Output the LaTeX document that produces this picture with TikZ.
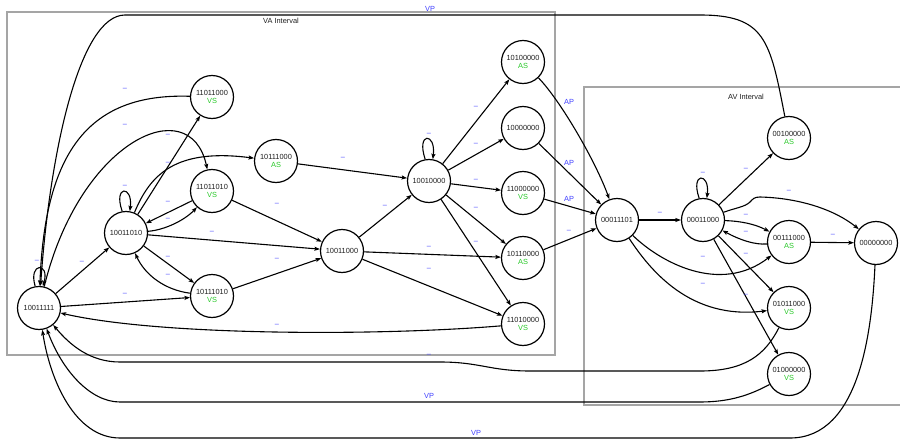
\documentclass[tikz,border=0pt]{standalone}
\usepackage{fontspec}
\setmainfont{Liberation Sans}
\usetikzlibrary{arrows.meta}
\definecolor{lblue}{RGB}{64,64,255}
\definecolor{sgreen}{RGB}{40,200,40}
\definecolor{boxgray}{RGB}{165,165,165}
\definecolor{txt}{RGB}{30,30,30}
\begin{document}
\begin{tikzpicture}[x=1pt,y=-1pt,
  st/.style={circle,draw,line width=1.2pt,minimum size=43pt,inner sep=0pt,align=center,font=\fontsize{7.4}{8.8}\selectfont,text=txt},
  arr/.style={line width=1.1pt,-{Stealth[length=5.5pt,width=4pt,inset=1pt]}},
  lbl/.style={font=\fontsize{7.4}{8.8}\selectfont,text=lblue,inner sep=0pt},
  box/.style={draw=boxgray,line width=2pt,inner sep=0pt},
  boxlbl/.style={font=\fontsize{7.4}{8.8}\selectfont,inner sep=0pt,text=txt}
]
\useasboundingbox (0,0) rectangle (900,439);
% interval boxes
\node[box,minimum width=548pt,minimum height=343pt] (va) at (281,183.5) {};
\node[box,minimum width=324pt,minimum height=318pt] (av) at (746,246) {};
\node[boxlbl] (valbl) at (281,21) {VA Interval};
\node[boxlbl] (avlbl) at (746,97) {AV Interval};
% states
\node[st] (A) at (39,308) {10011111};
\node[st] (B) at (126,233) {10011010};
\node[st] (C) at (212,97) {11011000\\\textcolor{sgreen}{VS}};
\node[st] (D) at (212,191) {11011010\\\textcolor{sgreen}{VS}};
\node[st] (E) at (276,161) {10111000\\\textcolor{sgreen}{AS}};
\node[st] (F) at (212,296) {10111010\\\textcolor{sgreen}{VS}};
\node[st] (G) at (342,251) {10011000};
\node[st] (H) at (429,181) {10010000};
\node[st] (I) at (523,62) {10100000\\\textcolor{sgreen}{AS}};
\node[st] (J) at (523,128) {10000000};
\node[st] (K) at (523,193) {11000000\\\textcolor{sgreen}{VS}};
\node[st] (L) at (523,258) {10110000\\\textcolor{sgreen}{AS}};
\node[st] (M) at (523,324) {11010000\\\textcolor{sgreen}{VS}};
\node[st] (N) at (617,220) {00011101};
\node[st] (O) at (703,220) {00011000};
\node[st] (P) at (789,138) {00100000\\\textcolor{sgreen}{AS}};
\node[st] (Q) at (789,242) {00111000\\\textcolor{sgreen}{AS}};
\node[st] (R) at (876,243) {00000000};
\node[st] (S) at (789,308) {01011000\\\textcolor{sgreen}{VS}};
\node[st] (T) at (789,374) {01000000\\\textcolor{sgreen}{VS}};
% edges around A
\draw[arr] (A.100) .. controls (28,262) and (50,262) .. (A.80);
\draw[arr] (A) -- (B);
\draw[arr] (A) -- (F);
\draw[arr] (M) .. controls (380,336) and (160,336) .. (A);
\draw[arr] (C) .. controls (90,93) and (45,150) .. (A);
\draw[arr] (A) .. controls (80,140) and (190,90) .. (D);
\draw[arr] (P) .. controls (770,40) and (765,15) .. (700,15) -- (125,15) .. controls (80,15) and (50,150) .. (A);
\draw[arr] (S) .. controls (765,355) and (745,371) .. (700,371) -- (530,371) .. controls (490,371) and (480,362) .. (440,362) -- (120,362) .. controls (90,362) and (70,345) .. (A);
\draw[arr] (T) .. controls (750,395) and (730,402) .. (700,402) -- (120,402) .. controls (90,402) and (62,370) .. (A);
\draw[arr] (R) .. controls (872,330) and (860,438) .. (790,438) -- (120,438) .. controls (75,438) and (50,380) .. (A);
% edges around B
\draw[arr] (B.100) .. controls (113,185) and (133,185) .. (B.80);
\draw[arr] (B) -- (C);
\draw[arr] (B) .. controls (150,175) and (175,148) .. (E);
\draw[arr] (D) -- (B);
\draw[arr] (B) .. controls (165,230) and (185,220) .. (D);
\draw[arr] (B) -- (G);
\draw[arr] (B) -- (F);
\draw[arr] (F) .. controls (165,290) and (145,275) .. (B);
% middle
\draw[arr] (D) -- (G);
\draw[arr] (F) -- (G);
\draw[arr] (E) -- (H);
\draw[arr] (G) -- (H);
\draw[arr] (G) -- (L);
\draw[arr] (G) -- (M);
\draw[arr] (H.100) .. controls (416,132) and (436,132) .. (H.80);
\draw[arr] (H) -- (I);
\draw[arr] (H) -- (J);
\draw[arr] (H) -- (K);
\draw[arr] (H) -- (L);
\draw[arr] (H) -- (M);
% into N
\draw[arr] (I) .. controls (560,100) and (595,160) .. (N);
\draw[arr] (J) -- (N);
\draw[arr] (K) -- (N);
\draw[arr] (L) -- (N);
% AV interval
\draw[arr] (N) -- (O);
\draw[arr] (O.100) .. controls (690,172) and (710,172) .. (O.80);
\draw[arr] (O) -- (P);
\draw[arr] (O) .. controls (735,208) and (745,207) .. (750,202) .. controls (753,199) and (754,197) .. (760,197) .. controls (800,198) and (835,210) .. (R);
\draw[arr] (O) .. controls (740,221) and (755,224) .. (Q);
\draw[arr] (Q) .. controls (755,245) and (740,240) .. (O);
\draw[arr] (Q) -- (R);
\draw[arr] (O) -- (S);
\draw[arr] (O) -- (T);
\draw[arr] (N) .. controls (660,262) and (720,295) .. (Q);
\draw[arr] (N) .. controls (650,270) and (690,320) .. (S);
% labels
\node[lbl] (l1) at (37,261) {–};
\node[lbl] (l2) at (82,262) {–};
\node[lbl] (l3) at (125,294) {–};
\node[lbl] (l4) at (277,325) {–};
\node[lbl] (l5) at (125,89) {–};
\node[lbl] (l6) at (125,125) {–};
\node[lbl] (l7) at (430,9) {VP};
\node[lbl] (l8) at (429,355) {–};
\node[lbl] (l9) at (429,396) {VP};
\node[lbl] (l10) at (476,433) {VP};
\node[lbl] (l11) at (125,186) {–};
\node[lbl] (l12) at (168,135) {–};
\node[lbl] (l13) at (168,163) {–};
\node[lbl] (l14) at (168,202) {–};
\node[lbl] (l15) at (168,219) {–};
\node[lbl] (l16) at (212,232) {–};
\node[lbl] (l17) at (168,257) {–};
\node[lbl] (l18) at (168,275) {–};
\node[lbl] (l19) at (277,204) {–};
\node[lbl] (l20) at (277,259) {–};
\node[lbl] (l21) at (343,158) {–};
\node[lbl] (l22) at (385,206) {–};
\node[lbl] (l23) at (429,247) {–};
\node[lbl] (l24) at (429,269) {–};
\node[lbl] (l25) at (429,134) {–};
\node[lbl] (l26) at (476,107) {–};
\node[lbl] (l27) at (476,144) {–};
\node[lbl] (l28) at (476,180) {–};
\node[lbl] (l29) at (476,208) {–};
\node[lbl] (l30) at (476,242) {–};
\node[lbl] (l31) at (569,102) {AP};
\node[lbl] (l32) at (569,163) {AP};
\node[lbl] (l33) at (569,199) {AP};
\node[lbl] (l34) at (569,231) {–};
\node[lbl] (l35) at (660,213) {–};
\node[lbl] (l36) at (703,173) {–};
\node[lbl] (l37) at (746,169) {–};
\node[lbl] (l38) at (789,191) {–};
\node[lbl] (l39) at (746,215) {–};
\node[lbl] (l40) at (746,232) {–};
\node[lbl] (l41) at (833,235) {–};
\node[lbl] (l42) at (746,254) {–};
\node[lbl] (l43) at (746,295) {–};
\node[lbl] (l44) at (703,257) {–};
\node[lbl] (l45) at (703,284) {–};
\end{tikzpicture}
\end{document}
